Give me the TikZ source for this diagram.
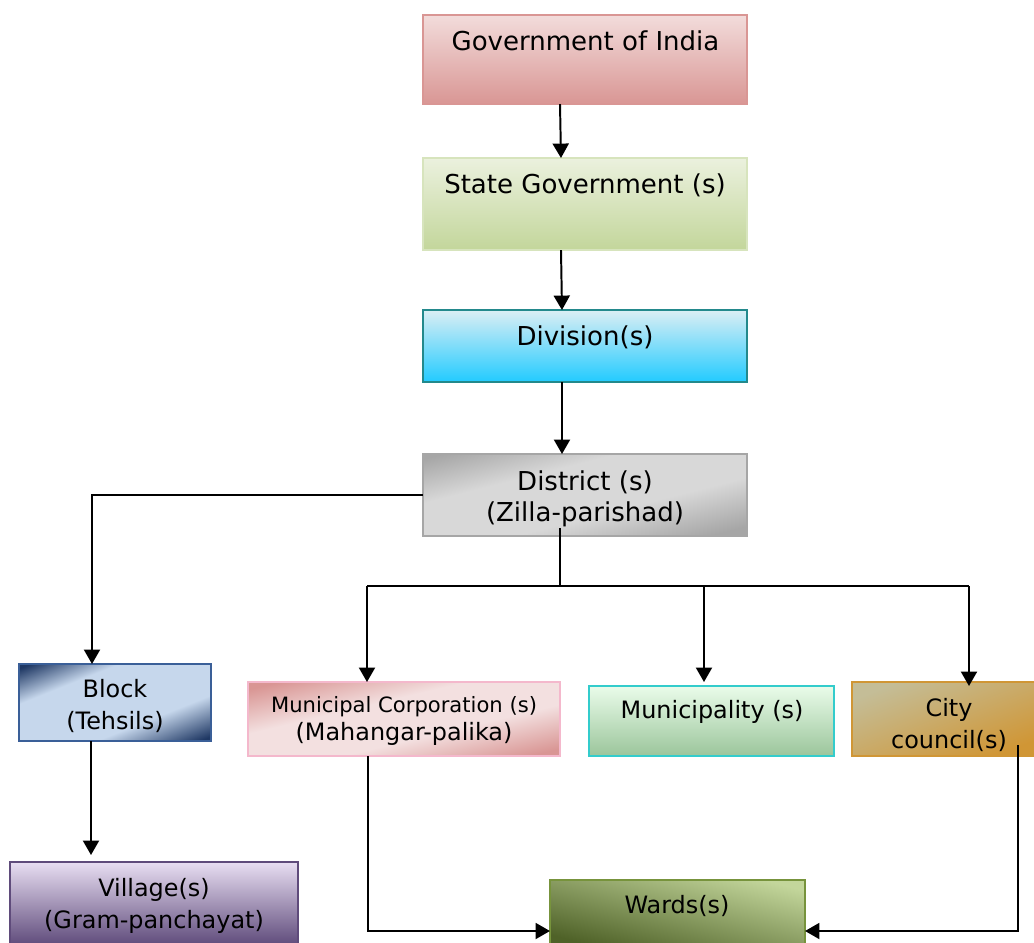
\documentclass[tikz,border=0pt]{standalone}
\usepackage{fontspec}
\setmainfont{DejaVu Sans}
\usetikzlibrary{arrows.meta,calc}
\definecolor{govA}{HTML}{F2DCDB}\definecolor{govM}{HTML}{EBC6C5}\definecolor{govB}{HTML}{D99694}
\definecolor{stA}{HTML}{EBF1DE}\definecolor{stB}{HTML}{C3D69B}\definecolor{stE}{HTML}{D7E4BD}
\definecolor{dvA}{HTML}{DBEEF4}\definecolor{dvB}{HTML}{22CBFF}\definecolor{dvE}{HTML}{23898C}
\definecolor{dsA}{HTML}{A6A6A6}\definecolor{dsB}{HTML}{D8D8D8}
\definecolor{blA}{HTML}{1F3864}\definecolor{blB}{HTML}{C6D7EC}\definecolor{blE}{HTML}{3A5F98}
\definecolor{viA}{HTML}{E8DEF2}\definecolor{viM}{HTML}{D2C2E2}\definecolor{viB}{HTML}{5F4B7B}
\definecolor{mcA}{HTML}{D99694}\definecolor{mcB}{HTML}{F3E0E0}\definecolor{mcE}{HTML}{F4B8CC}
\definecolor{muA}{HTML}{EAFCEA}\definecolor{muB}{HTML}{9BC59B}\definecolor{muE}{HTML}{33CCCC}
\definecolor{ccA}{HTML}{C4BD97}\definecolor{ccB}{HTML}{D09635}
\definecolor{waA}{HTML}{C3D69B}\definecolor{waB}{HTML}{4F6228}\definecolor{waE}{HTML}{77933C}
% param 0bp = bottom-right (or bottom-left if turned -45), 100bp = top-left (or top-right)
\pgfdeclareverticalshading{shDist}{100bp}{color(0bp)=(dsA); color(6bp)=(dsA); color(36bp)=(dsB); color(70bp)=(dsB); color(97bp)=(dsA); color(100bp)=(dsA)}
\pgfdeclareverticalshading{shBlock}{100bp}{color(0bp)=(blA); color(3bp)=(blA); color(30bp)=(blB); color(74bp)=(blB); color(97bp)=(blA); color(100bp)=(blA)}
\pgfdeclareverticalshading{shMC}{100bp}{color(0bp)=(mcA); color(5bp)=(mcA); color(35bp)=(mcB); color(65bp)=(mcB); color(95bp)=(mcA); color(100bp)=(mcA)}
\pgfdeclareverticalshading{shCity}{100bp}{color(0bp)=(ccB); color(12bp)=(ccB); color(88bp)=(ccA); color(100bp)=(ccA)}
\pgfdeclareverticalshading{shWards}{100bp}{color(0bp)=(waB); color(8bp)=(waB); color(92bp)=(waA); color(100bp)=(waA)}
% #1 node, #2 shading, #3 xscale, #4 yscale, #5 angle
\newcommand{\diagfill}[5]{%
  \begin{scope}
    \clip (#1.south west) rectangle (#1.north east);
    \node[inner sep=0, outer sep=0, transform canvas={shift={(#1.center)}, xscale=#3, yscale=#4, rotate=#5}] (#1-shade) at (0,0) {\pgfuseshading{#2}};
  \end{scope}}
\tikzset{
  box/.style={rectangle, inner sep=0, outer sep=0, line width=1.4pt},
  txt/.style={inner sep=0, align=center, font=\fontsize{17}{22.5}\selectfont},
  big/.style={font=\fontsize{18.5}{22}\selectfont},
  arr/.style={line width=1.4pt, -{Triangle[length=0.36cm,width=0.4cm]}},
  ln/.style={line width=1.4pt},
  frame/.style={line width=1.4pt},
}
\begin{document}
\begin{tikzpicture}[x=0.025cm,y=-0.025cm]
\useasboundingbox (0,0) rectangle (1034,942);
\clip (0,0) rectangle (1034,942);
% boxes
\node[box, draw=govB, top color=govA, middle color=govM, bottom color=govB, minimum width=8.1cm, minimum height=2.225cm] (gov) at (585,59.5) {};
\node[box, draw=stE, top color=stA, bottom color=stB, minimum width=8.1cm, minimum height=2.3cm] (state) at (585,204) {};
\node[box, draw=dvE, top color=dvA, bottom color=dvB, minimum width=8.1cm, minimum height=1.8cm] (div) at (585,346) {};
\node[box, minimum width=8.1cm, minimum height=2.05cm] (dist) at (585,495) {};
\diagfill{dist}{shDist}{3.2471}{0.8218}{45}
\draw[frame, draw=dsA] (dist.south west) rectangle (dist.north east);
\node[box, minimum width=4.8cm, minimum height=1.925cm] (block) at (115,702.5) {};
\diagfill{block}{shBlock}{1.9242}{0.7717}{45}
\draw[frame, draw=blE] (block.south west) rectangle (block.north east);
\node[box, draw=viB, top color=viA, middle color=viM, bottom color=viB, minimum width=7.2cm, minimum height=2.075cm] (village) at (154,903.5) {};
\node[box, minimum width=7.8cm, minimum height=1.85cm] (mc) at (404,719) {};
\diagfill{mc}{shMC}{3.1268}{0.7416}{45}
\draw[frame, draw=mcE] (mc.south west) rectangle (mc.north east);
\node[box, draw=muE, top color=muA, bottom color=muB, minimum width=6.125cm, minimum height=1.75cm] (mun) at (711.5,721) {};
\node[box, minimum width=4.7cm, minimum height=1.85cm] (city) at (946,719) {};
\diagfill{city}{shCity}{1.8841}{0.7416}{45}
\draw[frame, draw=ccB] (city.south west) rectangle (city.north east);
\node[box, minimum width=6.375cm, minimum height=1.625cm] (wards) at (677.5,912.5) {};
\diagfill{wards}{shWards}{2.5556}{0.6514}{-45}
\draw[frame, draw=waE] (wards.south west) rectangle (wards.north east);
% texts
\node[txt, big] (tgov) at (585.5,41) {Government of India};
\node[txt, big] (tstate) at (585,185.5) {State Government (s)};
\node[txt, big] (tdiv) at (585,337.5) {Division(s)};
\node[txt, big] (tdist) at (585,499) {District (s)\\(Zilla-parishad)};
\node[txt] (tblock) at (115,706) {Block\\(Tehsils)};
\node[txt] (tvillage) at (154,906) {Village(s)\\(Gram-panchayat)};
\node[txt, font=\fontsize{17}{19.5}\selectfont] (tmc) at (404,721) {{\fontsize{15}{19.5}\selectfont Municipal Corporation (s)}\\(Mahangar-palika)};
\node[txt] (tmun) at (712,712) {Municipality (s)};
\node[txt] (tcity) at (949,725) {City\\council(s)};
\node[txt] (twards) at (677,906) {Wards(s)};
% connectors
\draw[arr] ($(gov.south)+(-25,0)$) -- ($(state.north)+(-24,0)$);
\draw[arr] ($(state.south)+(-24,0)$) -- ($(div.north)+(-23,0)$);
\draw[arr] ($(div.south)+(-23,0)$) -- ($(dist.north)+(-23,0)$);
\draw[arr] (dist.west) -| ($(block.north)+(-23,0)$);
\draw[arr] ($(block.south)+(-24,0)$) -- ($(village.north)+(-63,-7)$);
\coordinate (jc) at ($(dist.south)+(-25,50)$);
\coordinate (jl) at ($(mc.north)+(-37,-96)$);
\coordinate (jm) at ($(mun.north)+(-7.5,-100)$);
\coordinate (jr) at ($(city.north)+(23,-96)$);
\draw[ln] ($(dist.south)+(-25,-8)$) -- (jc);
\draw[ln] (jl) -- (jr);
\draw[arr] (jl) -- (jl |- mc.north);
\draw[arr] (jm) -- (jm |- mc.north);
\draw[arr] (jr) -- ($(jr |- city.north)+(0,4)$);
\draw[arr] ($(mc.south)+(-36,0)$) |- ($(wards.west)+(0,18.5)$);
\coordinate (cc) at ($(city.south)+(72,-11)$);
\draw[arr] (cc) |- ($(wards.east)+(0,18.5)$);
\end{tikzpicture}
\end{document}
